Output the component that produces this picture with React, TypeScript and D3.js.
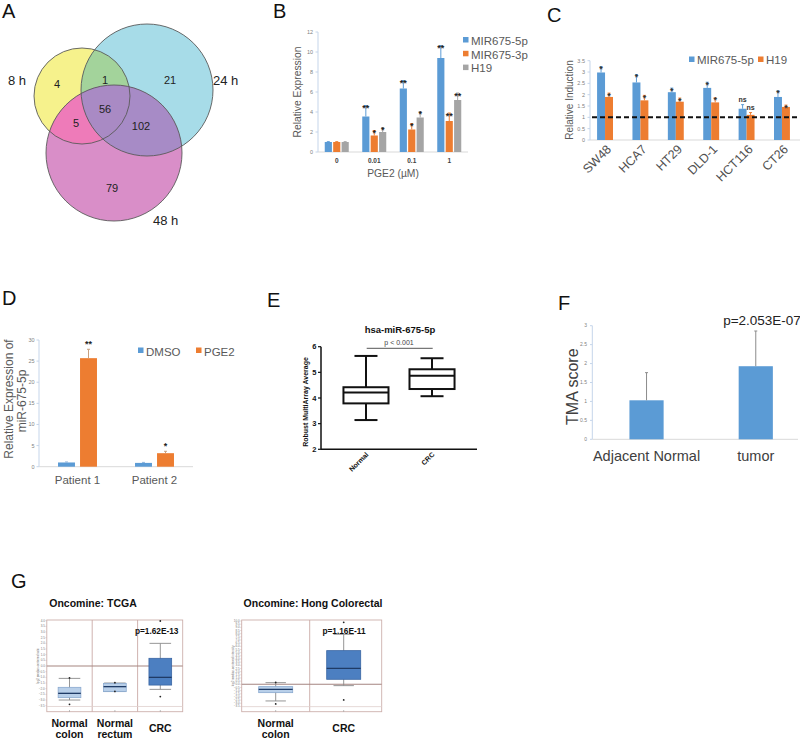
import React from "react";
import * as d3 from "d3";

const FONT = "'Liberation Sans', Arial, Helvetica, sans-serif";
const BLUE = "#5b9bd5";
const ORANGE = "#ed7d31";
const GRAY = "#a5a5a5";
const YAXIS = "#c5d5ea";
const XAXIS = "#d9d9d9";

// ---------- Panel A (Venn) ----------
const vennSetLabels = ["8 h", "24 h", "48 h"];
const vennRegions = ["8h", "8h&24h", "24h", "all", "8h&48h", "24h&48h", "48h"];
const vennCounts = [4, 1, 21, 56, 5, 102, 79];

// ---------- Panel B ----------
const bDoses = ["0", "0.01", "0.1", "1"];
const bSeries = ["MIR675-5p", "MIR675-3p", "H19"];
const b5p = [1, 3.55, 6.35, 9.4];
const b5pErr = [0.03, 1.1, 0.8, 1.25];
const b3p = [1, 1.65, 2.25, 3.1];
const b3pErr = [0.03, 0.5, 0.6, 0.8];
const bH19 = [1, 2.0, 3.45, 5.2];
const bH19Err = [0.03, 0.45, 0.6, 0.7];
const b5pSig = ["", "**", "**", "**"];
const b3pSig = ["", "*", "*", "**"];
const bH19Sig = ["", "*", "*", "**"];
const bTicks = [0, 2, 4, 6, 8, 10, 12];

// ---------- Panel C ----------
const cLines = ["SW48", "HCA7", "HT29", "DLD-1", "HCT116", "CT26"];
const cSeries = ["MIR675-5p", "H19"];
const c5p = [2.98, 2.54, 2.11, 2.3, 1.38, 1.9];
const c5pErr = [0.26, 0.35, 0.18, 0.25, 0.18, 0.27];
const cH19 = [1.9, 1.75, 1.69, 1.66, 1.11, 1.46];
const cH19Err = [0.17, 0.22, 0.16, 0.2, 0.1, 0.08];
const c5pSig = ["*", "*", "*", "*", "ns", "*"];
const cH19Sig = ["*", "*", "*", "*", "ns", "*"];
const cTicks = [0, 0.5, 1, 1.5, 2, 2.5, 3, 3.5];
const cBaseline = 1;

// ---------- Panel D ----------
const dPatients = ["Patient 1", "Patient 2"];
const dSeries = ["DMSO", "PGE2"];
const dDMSO = [1.0, 0.9];
const dDMSOErr = [0.12, 0.12];
const dPGE2 = [25.7, 3.2];
const dPGE2Err = [2.1, 0.45];
const dSig = ["**", "*"];
const dTicks = [0, 5, 10, 15, 20, 25, 30];

// ---------- Panel E ----------
const eGroups = ["Normal", "CRC"];
const eMin = [3.14, 4.07];
const eQ1 = [3.79, 4.35];
const eMed = [4.21, 4.87];
const eQ3 = [4.42, 5.12];
const eMax = [5.64, 5.55];
const eTicks = [2, 3, 4, 5, 6];

// ---------- Panel F ----------
const fGroups = ["Adjacent Normal", "tumor"];
const fMean = [1.03, 1.93];
const fErr = [0.73, 0.93];
const fTicks = [0, 0.5, 1, 1.5, 2, 2.5, 3];

// ---------- Panel G ----------
const gTcgaGroups = ["Normal colon", "Normal rectum", "CRC"];
const gTcgaLabels = [["Normal", "colon"], ["Normal", "rectum"], ["CRC"]];
const gTcgaLo = [-3.0, -2.25, -2.06];
const gTcgaQ1 = [-2.79, -2.26, -1.68];
const gTcgaMed = [-2.41, -1.82, -1.0];
const gTcgaQ3 = [-1.88, -1.53, 0.68];
const gTcgaHi = [-1.09, -1.5, 2.0];
const gTcgaMax = [-1.05, -1.47, 3.97];
const gTcgaMin = [-3.38, -2.24, -2.7];
const gTcgaTicks = d3.range(-3.5, 4.01, 0.5);
const gTcgaRef = [0, -3.57];

const gHongGroups = ["Normal colon", "CRC"];
const gHongLabels = [["Normal", "colon"], ["CRC"]];
const gHongLo = [-2.63, -0.21];
const gHongQ1 = [-1.32, 0.79];
const gHongMed = [-0.79, 2.53];
const gHongQ3 = [-0.37, 5.32];
const gHongHi = [0.26, 7.9];
const gHongMax = [0.3, 9.79];
const gHongMin = [-3.1, -2.47];
const gHongTicks = d3.range(-3.5, 10.01, 0.5);
const gHongRef = [0, -3.53];

function PanelLetter({ x, y, t }: { x: number; y: number; t: string }) {
  return (
    <text x={x} y={y} fontSize={20} fill="#111" fontFamily={FONT}>
      {t}
    </text>
  );
}

function ErrBar({ x, y0, y1, color, cap = 4, w = 1 }: any) {
  return (
    <g stroke={color} strokeWidth={w}>
      <line x1={x} x2={x} y1={y0} y2={y1} />
      <line x1={x - cap / 2} x2={x + cap / 2} y1={y1} y2={y1} />
    </g>
  );
}

function Venn() {
  const circles = [
    { id: "vY", cx: 82, cy: 96, r: 48, fill: "#f6f28c" },
    { id: "vC", cx: 147, cy: 90, r: 66, fill: "#a7dce8" },
    { id: "vM", cx: 114, cy: 153, r: 68, fill: "#d98ec8" },
  ];
  const [Y, C, M] = circles;
  const countPos: Record<string, [number, number]> = {
    "8h": [57, 88],
    "8h&24h": [105, 84],
    "24h": [170, 84],
    all: [105, 113],
    "8h&48h": [76, 127],
    "24h&48h": [141, 130],
    "48h": [112, 192],
  };
  const setPos: [number, number][] = [
    [8, 85],
    [213, 85],
    [153, 225],
  ];
  return (
    <g>
      <defs>
        {circles.map((c) => (
          <clipPath id={c.id} key={c.id}>
            <circle cx={c.cx} cy={c.cy} r={c.r} />
          </clipPath>
        ))}
      </defs>
      {circles.map((c) => (
        <circle key={c.id} cx={c.cx} cy={c.cy} r={c.r} fill={c.fill} />
      ))}
      <g clipPath="url(#vY)">
        <circle cx={C.cx} cy={C.cy} r={C.r} fill="#a3d39b" />
        <circle cx={M.cx} cy={M.cy} r={M.r} fill="#ee7bb9" />
      </g>
      <g clipPath="url(#vC)">
        <circle cx={M.cx} cy={M.cy} r={M.r} fill="#a78bc6" />
        <g clipPath="url(#vY)">
          <circle cx={M.cx} cy={M.cy} r={M.r} fill="#a98ac4" />
        </g>
      </g>
      {circles.map((c) => (
        <circle key={"o" + c.id} cx={c.cx} cy={c.cy} r={c.r} fill="none" stroke="#5a5a5a" strokeWidth={0.9} />
      ))}
      {vennRegions.map((r, i) => (
        <text key={r} x={countPos[r][0]} y={countPos[r][1]} textAnchor="middle" fontSize={11} fill="#222" fontFamily={FONT}>
          {vennCounts[i]}
        </text>
      ))}
      {vennSetLabels.map((s, i) => (
        <text key={s} x={setPos[i][0]} y={setPos[i][1]} fontSize={13} fill="#222" fontFamily={FONT}>
          {s}
        </text>
      ))}
    </g>
  );
}

function PanelB() {
  const x0 = d3.scaleBand<string>().domain(bDoses).range([318, 468]).paddingInner(0.36).paddingOuter(0.18);
  const x1 = d3.scaleBand<string>().domain(bSeries).range([0, x0.bandwidth()]).paddingInner(0.15);
  const y = d3.scaleLinear().domain([0, 12]).range([152, 32]);
  const colors = [BLUE, ORANGE, GRAY];
  const vals = [b5p, b3p, bH19];
  const errs = [b5pErr, b3pErr, bH19Err];
  const sigs = [b5pSig, b3pSig, bH19Sig];
  return (
    <g fontFamily={FONT}>
      <line x1={318} x2={318} y1={y(12)} y2={y(0)} stroke={YAXIS} />
      {bTicks.map((t) => (
        <g key={t}>
          <line x1={315.5} x2={318} y1={y(t)} y2={y(t)} stroke={YAXIS} />
          <text x={313} y={y(t)} dy="0.35em" textAnchor="end" fontSize={5.5} fill="#7f7f7f">
            {t}
          </text>
        </g>
      ))}
      <line x1={318} x2={468} y1={y(0)} y2={y(0)} stroke={XAXIS} />
      {bDoses.map((d, i) => (
        <g key={d}>
          {bSeries.map((s, j) => {
            const bx = (x0(d) as number) + (x1(s) as number);
            const bw = x1.bandwidth();
            const v = vals[j][i];
            const e = errs[j][i];
            return (
              <g key={s}>
                <rect x={bx} y={y(v)} width={bw} height={y(0) - y(v)} fill={colors[j]} />
                <ErrBar x={bx + bw / 2} y0={y(v)} y1={y(v + e)} color={colors[j]} cap={3} />
                {sigs[j][i] && (
                  <text x={bx + bw / 2} y={y(v + e) + 5.5} textAnchor="middle" fontSize={9} fontWeight="bold" fill="#222">
                    {sigs[j][i]}
                  </text>
                )}
              </g>
            );
          })}
          <text x={(x0(d) as number) + x0.bandwidth() / 2} y={162.5} textAnchor="middle" fontSize={6.5} fontWeight="bold" fill="#404040">
            {d}
          </text>
        </g>
      ))}
      <text transform={`translate(301,92) rotate(-90)`} textAnchor="middle" fontSize={10.3} fill="#595959">
        Relative Expression
      </text>
      <text x={393} y={177} textAnchor="middle" fontSize={10.3} fill="#595959">
        PGE2 (µM)
      </text>
      {bSeries.map((s, j) => (
        <g key={s}>
          <rect x={463} y={37 + j * 13.8} width={5.5} height={5.5} fill={colors[j]} />
          <text x={471} y={44.8 + j * 13.8} fontSize={11.5} fill="#595959">
            {s}
          </text>
        </g>
      ))}
    </g>
  );
}

function PanelC() {
  const x0 = d3.scaleBand<string>().domain(cLines).range([590, 797]).paddingInner(0.55).paddingOuter(0.2);
  const x1 = d3.scaleBand<string>().domain(cSeries).range([0, x0.bandwidth()]).padding(0);
  const y = d3.scaleLinear().domain([0, 3.5]).range([140, 60.7]);
  const colors = [BLUE, ORANGE];
  const vals = [c5p, cH19];
  const errs = [c5pErr, cH19Err];
  const sigs = [c5pSig, cH19Sig];
  return (
    <g fontFamily={FONT}>
      <line x1={590} x2={590} y1={y(3.5)} y2={y(0)} stroke={YAXIS} />
      {cTicks.map((t) => (
        <g key={t}>
          <line x1={587.5} x2={590} y1={y(t)} y2={y(t)} stroke={YAXIS} />
          <text x={585} y={y(t)} dy="0.35em" textAnchor="end" fontSize={5.5} fill="#7f7f7f">
            {t}
          </text>
        </g>
      ))}
      <line x1={590} x2={800} y1={y(0)} y2={y(0)} stroke={XAXIS} />
      {cLines.map((c, i) => {
        const gx = x0(c) as number;
        return (
          <g key={c}>
            {cSeries.map((s, j) => {
              const bx = gx + (x1(s) as number);
              const bw = x1.bandwidth();
              const v = vals[j][i];
              const e = errs[j][i];
              const sig = sigs[j][i];
              return (
                <g key={s}>
                  <rect x={bx} y={y(v)} width={bw} height={y(0) - y(v)} fill={colors[j]} />
                  <ErrBar x={bx + bw / 2} y0={y(v)} y1={y(v + e)} color={colors[j]} cap={3} />
                  <text x={bx + bw / 2} y={y(v + e) + (sig === "ns" ? -2.5 : 5.5)} textAnchor="middle" fontSize={sig === "ns" ? 7 : 9} fontWeight="bold" fill="#333">
                    {sig}
                  </text>
                </g>
              );
            })}
            <text transform={`translate(${gx + x0.bandwidth() / 2 + 7},150) rotate(-45)`} textAnchor="end" fontSize={12.5} fill="#505050">
              {c}
            </text>
          </g>
        );
      })}
      <line x1={592} x2={800} y1={y(cBaseline)} y2={y(cBaseline)} stroke="#111" strokeWidth={2} strokeDasharray="5,3" />
      <text transform={`translate(573,100) rotate(-90)`} textAnchor="middle" fontSize={10} fill="#595959">
        Relative Induction
      </text>
      <rect x={689} y={56.5} width={5.5} height={5.5} fill={BLUE} />
      <text x={697} y={63.5} fontSize={11.5} fill="#595959">
        MIR675-5p
      </text>
      <rect x={758} y={56.5} width={5.5} height={5.5} fill={ORANGE} />
      <text x={766} y={63.5} fontSize={11.5} fill="#595959">
        H19
      </text>
    </g>
  );
}

function PanelD() {
  const x0 = d3.scaleBand<string>().domain(dPatients).range([39, 193]).paddingInner(0.494).paddingOuter(0.247);
  const x1 = d3.scaleBand<string>().domain(dSeries).range([0, x0.bandwidth()]).paddingInner(0.23);
  const y = d3.scaleLinear().domain([0, 30]).range([466.7, 340]);
  const colors = [BLUE, ORANGE];
  const vals = [dDMSO, dPGE2];
  const errs = [dDMSOErr, dPGE2Err];
  return (
    <g fontFamily={FONT}>
      <line x1={39} x2={39} y1={y(30)} y2={y(0)} stroke={YAXIS} />
      {dTicks.map((t) => (
        <g key={t}>
          <line x1={36.5} x2={39} y1={y(t)} y2={y(t)} stroke={YAXIS} />
          <text x={34.5} y={y(t)} dy="0.35em" textAnchor="end" fontSize={5.5} fill="#7f7f7f">
            {t}
          </text>
        </g>
      ))}
      <line x1={39} x2={193} y1={y(0)} y2={y(0)} stroke={XAXIS} />
      {dPatients.map((p, i) => (
        <g key={p}>
          {dSeries.map((s, j) => {
            const bx = (x0(p) as number) + (x1(s) as number);
            const bw = x1.bandwidth();
            const v = vals[j][i];
            const e = errs[j][i];
            return (
              <g key={s}>
                <rect x={bx} y={y(v)} width={bw} height={y(0) - y(v)} fill={colors[j]} />
                <ErrBar x={bx + bw / 2} y0={y(v)} y1={y(v + e)} color={j === 1 ? "#c8a080" : "#8fb4dd"} cap={3} />
                {j === 1 && (
                  <text x={bx + bw / 2} y={y(v + e) - 2} textAnchor="middle" fontSize={9} fontWeight="bold" fill="#222">
                    {dSig[i]}
                  </text>
                )}
              </g>
            );
          })}
          <text x={(x0(p) as number) + x0.bandwidth() / 2} y={484} textAnchor="middle" fontSize={11.5} fill="#595959">
            {p}
          </text>
        </g>
      ))}
      <text transform={`translate(13,399) rotate(-90)`} textAnchor="middle" fontSize={12} fill="#595959">
        Relative Expression of
      </text>
      <text transform={`translate(26,401) rotate(-90)`} textAnchor="middle" fontSize={12} fill="#595959">
        miR-675-5p
      </text>
      {dSeries.map((s, j) => (
        <g key={s}>
          <rect x={138 + j * 58} y={347.5} width={5.5} height={5.5} fill={colors[j]} />
          <text x={146 + j * 58} y={355.5} fontSize={11.5} fill="#595959">
            {s}
          </text>
        </g>
      ))}
    </g>
  );
}

function PanelE() {
  const x = d3.scaleBand<string>().domain(eGroups).range([321, 477]).paddingInner(0.318).paddingOuter(0.34);
  const y = d3.scaleLinear().domain([2, 6]).range([449.3, 346.7]);
  return (
    <g fontFamily={FONT}>
      <text x={400} y={333} textAnchor="middle" fontSize={9.5} fontWeight="bold" fill="#111">
        hsa-miR-675-5p
      </text>
      <text x={399} y={345} textAnchor="middle" fontSize={7} fill="#444">
        p &lt; 0.001
      </text>
      <line x1={366.7} x2={432.7} y1={348.3} y2={348.3} stroke="#555" strokeWidth={1} />
      <line x1={321} x2={321} y1={y(6)} y2={y(2)} stroke="#111" strokeWidth={1.5} />
      <line x1={321} x2={477} y1={y(2)} y2={y(2)} stroke="#111" strokeWidth={1.5} />
      {eTicks.map((t) => (
        <g key={t}>
          <line x1={318} x2={321} y1={y(t)} y2={y(t)} stroke="#111" strokeWidth={1.2} />
          <text x={316.5} y={y(t)} dy="0.35em" textAnchor="end" fontSize={7.5} fontWeight="bold" fill="#111">
            {t}
          </text>
        </g>
      ))}
      {eGroups.map((g, i) => {
        const bx = x(g) as number;
        const bw = x.bandwidth();
        const cx = bx + bw / 2;
        const cap = 23;
        return (
          <g key={g} stroke="#111" strokeWidth={2} fill="none">
            <line x1={cx} x2={cx} y1={y(eMax[i])} y2={y(eQ3[i])} />
            <line x1={cx} x2={cx} y1={y(eQ1[i])} y2={y(eMin[i])} />
            <line x1={cx - cap / 2} x2={cx + cap / 2} y1={y(eMax[i])} y2={y(eMax[i])} />
            <line x1={cx - cap / 2} x2={cx + cap / 2} y1={y(eMin[i])} y2={y(eMin[i])} />
            <rect x={bx} y={y(eQ3[i])} width={bw} height={y(eQ1[i]) - y(eQ3[i])} fill="#fff" />
            <line x1={bx} x2={bx + bw} y1={y(eMed[i])} y2={y(eMed[i])} />
            <text
              transform={`translate(${cx + 3},455) rotate(-45)`}
              textAnchor="end"
              fontSize={7}
              fontWeight="bold"
              fill="#111"
              stroke="none"
            >
              {g}
            </text>
          </g>
        );
      })}
      <text transform={`translate(308,402) rotate(-90)`} textAnchor="middle" fontSize={7} fontWeight="bold" fill="#111">
        Robust MultiArray Average
      </text>
    </g>
  );
}

function PanelF() {
  const x = d3.scaleBand<string>().domain(fGroups).range([592.3, 810]).paddingInner(0.687).paddingOuter(0.34);
  const y = d3.scaleLinear().domain([0, 3]).range([439.3, 325.7]);
  return (
    <g fontFamily={FONT}>
      <line x1={592.3} x2={592.3} y1={y(3)} y2={y(0)} stroke={YAXIS} />
      {fTicks.map((t) => (
        <g key={t}>
          <line x1={590} x2={592.3} y1={y(t)} y2={y(t)} stroke={YAXIS} />
          <text x={587} y={y(t)} dy="0.35em" textAnchor="end" fontSize={5} fill="#7f7f7f">
            {t}
          </text>
        </g>
      ))}
      <line x1={592.3} x2={798} y1={y(0)} y2={y(0)} stroke={XAXIS} />
      {fGroups.map((g, i) => {
        const bx = x(g) as number;
        const bw = x.bandwidth();
        const cx = bx + bw / 2;
        return (
          <g key={g}>
            <rect x={bx} y={y(fMean[i])} width={bw} height={y(0) - y(fMean[i])} fill={BLUE} />
            <ErrBar x={cx} y0={y(fMean[i])} y1={y(fMean[i] + fErr[i])} color="#8c8c8c" cap={3} />
            <text x={cx} y={461} textAnchor="middle" fontSize={14.5} fill="#404040">
              {g}
            </text>
          </g>
        );
      })}
      <text x={762} y={325} textAnchor="middle" fontSize={13.5} fill="#222">
        p=2.053E-07
      </text>
      <text transform={`translate(578,386.7) rotate(-90)`} textAnchor="middle" fontSize={16} fill="#404040">
        TMA score
      </text>
    </g>
  );
}

function OncoBox(props: any) {
  const { title, titleX, x0, x1, frameRight, groups, labels, lo, q1, med, q3, hi, mx, mn, ticks, dom, refs, pText, ylabel, capFrac } = props;
  const top = 620;
  const bottom = 711.7;
  const x = d3.scaleBand<string>().domain(groups).range([x0, x1]).padding(0);
  const y = d3.scaleLinear().domain(dom).range([bottom, top]);
  const boxW = x.bandwidth() * 0.5;
  const last = groups.length - 1;
  return (
    <g fontFamily={FONT}>
      <text x={titleX} y={607} textAnchor="middle" fontSize={10.5} fontWeight="bold" fill="#111">
        {title}
      </text>
      <rect x={x0} y={top} width={frameRight - x0} height={bottom - top} fill="#fff" stroke="#cdb0ac" strokeWidth={0.9} />
      {groups.slice(1).map((g: string) => (
        <line key={g} x1={x(g) as number} x2={x(g) as number} y1={top} y2={bottom} stroke="#c9aaa6" strokeWidth={0.9} />
      ))}
      {refs.map((r: number, i: number) => (
        <line key={i} x1={x0} x2={frameRight} y1={y(r)} y2={y(r)} stroke={i === 0 ? "#a58580" : "#e0cfcd"} strokeWidth={i === 0 ? 1.1 : 0.8} />
      ))}
      {ticks.map((t: number) => (
        <g key={t}>
          <line x1={x0 - 1.5} x2={x0} y1={y(t)} y2={y(t)} stroke="#cdb0ac" strokeWidth={0.5} />
          <text x={x0 - 2} y={y(t)} dy="0.35em" textAnchor="end" fontSize={3} fill="#777">
            {d3.format(".1f")(t)}
          </text>
        </g>
      ))}
      <text transform={`translate(${x0 - 7.5},${(top + bottom) / 2}) rotate(-90)`} textAnchor="middle" fontSize={3} fill="#777">
        {ylabel}
      </text>
      {groups.map((g: string, i: number) => {
        const cx = (x(g) as number) + x.bandwidth() / 2;
        const isCrc = i === last;
        const fill = isCrc ? "#4c7fc1" : "#b8cfe9";
        const stroke = isCrc ? "#3a66a3" : "#8aa9cf";
        const cap = boxW * capFrac;
        return (
          <g key={g}>
            <line x1={cx} x2={cx} y1={y(hi[i])} y2={y(lo[i])} stroke="#8a8a8a" strokeWidth={0.9} />
            <line x1={cx - cap / 2} x2={cx + cap / 2} y1={y(hi[i])} y2={y(hi[i])} stroke="#8a8a8a" strokeWidth={0.9} />
            <line x1={cx - cap / 2} x2={cx + cap / 2} y1={y(lo[i])} y2={y(lo[i])} stroke="#8a8a8a" strokeWidth={0.9} />
            <rect x={cx - boxW / 2} y={y(q3[i])} width={boxW} height={y(q1[i]) - y(q3[i])} fill={fill} stroke={stroke} strokeWidth={0.8} />
            <line x1={cx - boxW / 2} x2={cx + boxW / 2} y1={y(med[i])} y2={y(med[i])} stroke="#1f3b66" strokeWidth={1.3} />
            <circle cx={cx} cy={y(mx[i])} r={0.9} fill="#222" />
            <circle cx={cx} cy={y(mn[i])} r={0.9} fill="#222" />
            <line x1={cx} x2={cx} y1={bottom - 1.5} y2={bottom} stroke="#999" strokeWidth={0.8} />
            {labels[i].length === 2 ? (
              <>
                <text x={cx} y={727} textAnchor="middle" fontSize={10.5} fontWeight="bold" fill="#111">
                  {labels[i][0]}
                </text>
                <text x={cx} y={738} textAnchor="middle" fontSize={10.5} fontWeight="bold" fill="#111">
                  {labels[i][1]}
                </text>
              </>
            ) : (
              <text x={cx} y={732} textAnchor="middle" fontSize={10.5} fontWeight="bold" fill="#111">
                {labels[i][0]}
              </text>
            )}
          </g>
        );
      })}
      <text x={pText[0]} y={pText[1]} textAnchor="middle" fontSize={8.3} fontWeight="bold" fill="#111">
        {pText[2]}
      </text>
    </g>
  );
}

export default function App() {
  return (
    <div>
      <style>{`body{margin:0;background:#fff}`}</style>
      <svg width={800} height={742} viewBox="0 0 800 742" style={{ display: "block", background: "#fff" }}>
        <rect x={0} y={0} width={800} height={742} fill="#fff" />
        <PanelLetter x={2} y={18} t="A" />
        <PanelLetter x={273} y={18} t="B" />
        <PanelLetter x={547} y={22} t="C" />
        <PanelLetter x={2} y={305} t="D" />
        <PanelLetter x={267} y={307} t="E" />
        <PanelLetter x={558} y={310} t="F" />
        <PanelLetter x={11} y={588} t="G" />
        <Venn />
        <PanelB />
        <PanelC />
        <PanelD />
        <PanelE />
        <PanelF />
        <OncoBox
          title="Oncomine: TCGA"
          titleX={93}
          x0={46.8}
          x1={183}
          frameRight={182.7}
          groups={gTcgaGroups}
          labels={gTcgaLabels}
          lo={gTcgaLo}
          q1={gTcgaQ1}
          med={gTcgaMed}
          q3={gTcgaQ3}
          hi={gTcgaHi}
          mx={gTcgaMax}
          mn={gTcgaMin}
          ticks={gTcgaTicks}
          dom={[-4.03, 4.06]}
          refs={gTcgaRef}
          pText={[156.7, 634, "p=1.62E-13"]}
          ylabel="log2 median-centered ratio"
          capFrac={0.95}
        />
        <OncoBox
          title="Oncomine: Hong Colorectal"
          titleX={313}
          x0={241.7}
          x1={377.7}
          frameRight={381.7}
          groups={gHongGroups}
          labels={gHongLabels}
          lo={gHongLo}
          q1={gHongQ1}
          med={gHongMed}
          q3={gHongQ3}
          hi={gHongHi}
          mx={gHongMax}
          mn={gHongMin}
          ticks={gHongTicks}
          dom={[-4.33, 10.16]}
          refs={gHongRef}
          pText={[344, 633.5, "p=1.16E-11"]}
          ylabel="log2 median-centered intensity"
          capFrac={0.6}
        />
      </svg>
    </div>
  );
}
